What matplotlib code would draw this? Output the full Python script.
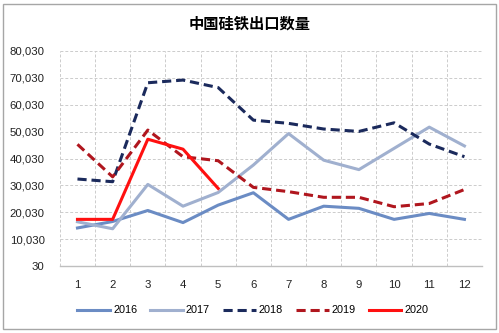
import matplotlib
matplotlib.use("Agg")
import matplotlib.pyplot as plt
from matplotlib.patches import Rectangle
from matplotlib.ticker import FixedLocator, FuncFormatter

plt.rcParams["font.family"] = ["Noto Sans CJK SC", "DejaVu Sans"]

TITLE = "中国硅铁出口数量"
MONTHS = [1, 2, 3, 4, 5, 6, 7, 8, 9, 10, 11, 12]
Y_TICKS = [30, 10030, 20030, 30030, 40030, 50030, 60030, 70030, 80030]

S2016 = [14200, 16600, 20700, 16200, 22700, 27300, 17400, 22300, 21500, 17400, 19600, 17400]
S2017 = [16500, 13900, 30400, 22300, 27400, 37600, 49300, 39400, 35900, 43800, 51700, 44700]
S2018 = [32400, 31400, 68200, 69200, 66400, 54300, 53100, 51000, 50100, 53300, 45400, 40700]
S2019 = [45300, 33200, 50600, 40700, 39200, 29300, 27700, 25600, 25600, 22100, 23300, 28500]
S2020 = [17400, 17400, 47200, 43500, 28900]

SERIES = [
    ("2016", S2016, "#6b8cc4", "-"),
    ("2017", S2017, "#a0b0cf", "-"),
    ("2018", S2018, "#1b2a5c", (0, (3, 1.6))),
    ("2019", S2019, "#b0161e", (0, (3, 1.6))),
    ("2020", S2020, "#ff1010", "-"),
]

fig = plt.figure(figsize=(4.99, 3.33), dpi=100)
fig.patches.append(Rectangle((0.006, 0.012), 0.988, 0.976, transform=fig.transFigure,
                             fill=False, edgecolor="#a6a6a6", linewidth=1.0))
ax = fig.add_axes([0.120, 0.201, 0.846, 0.646])

for label, values, color, style in SERIES:
    ax.plot(MONTHS[:len(values)], values, color=color, linestyle=style, linewidth=2.2,
            label=label)

ax.set_xlim(0.5, 12.5)
ax.set_ylim(30, 80030)
ax.set_xticks(MONTHS)
ax.xaxis.set_minor_locator(FixedLocator([m + 0.5 for m in range(0, 13)]))
ax.set_yticks(Y_TICKS)
ax.yaxis.set_major_formatter(FuncFormatter(lambda v, _: f"{int(round(v)):,}"))
ax.tick_params(axis="both", which="both", length=0, labelsize=8.2, colors="#222222")
ax.tick_params(axis="x", pad=10)
ax.tick_params(axis="y", pad=11)
for lab in ax.get_xticklabels() + ax.get_yticklabels():
    lab.set_family(["Liberation Sans", "DejaVu Sans"])

ax.grid(axis="y", which="major", color="#cccccc", linestyle=(0, (3, 2)), linewidth=0.7)
ax.grid(axis="x", which="minor", color="#cccccc", linestyle=(0, (3, 2)), linewidth=0.7)
for side in ["top", "right", "left"]:
    ax.spines[side].set_visible(False)
ax.spines["bottom"].set_color("#bfbfbf")
ax.spines["bottom"].set_linewidth(1.0)

fig.text(0.5, 0.93, TITLE, ha="center", va="center", fontsize=11, fontweight="bold")

leg = fig.legend(loc="center", bbox_to_anchor=(0.507, 0.068), ncol=5, frameon=False,
                 fontsize=7.8, handlelength=3.0, columnspacing=1.2, handletextpad=0.3)
for text in leg.get_texts():
    text.set_family(["Liberation Sans", "DejaVu Sans"])

fig.savefig("out.png", dpi=100)
